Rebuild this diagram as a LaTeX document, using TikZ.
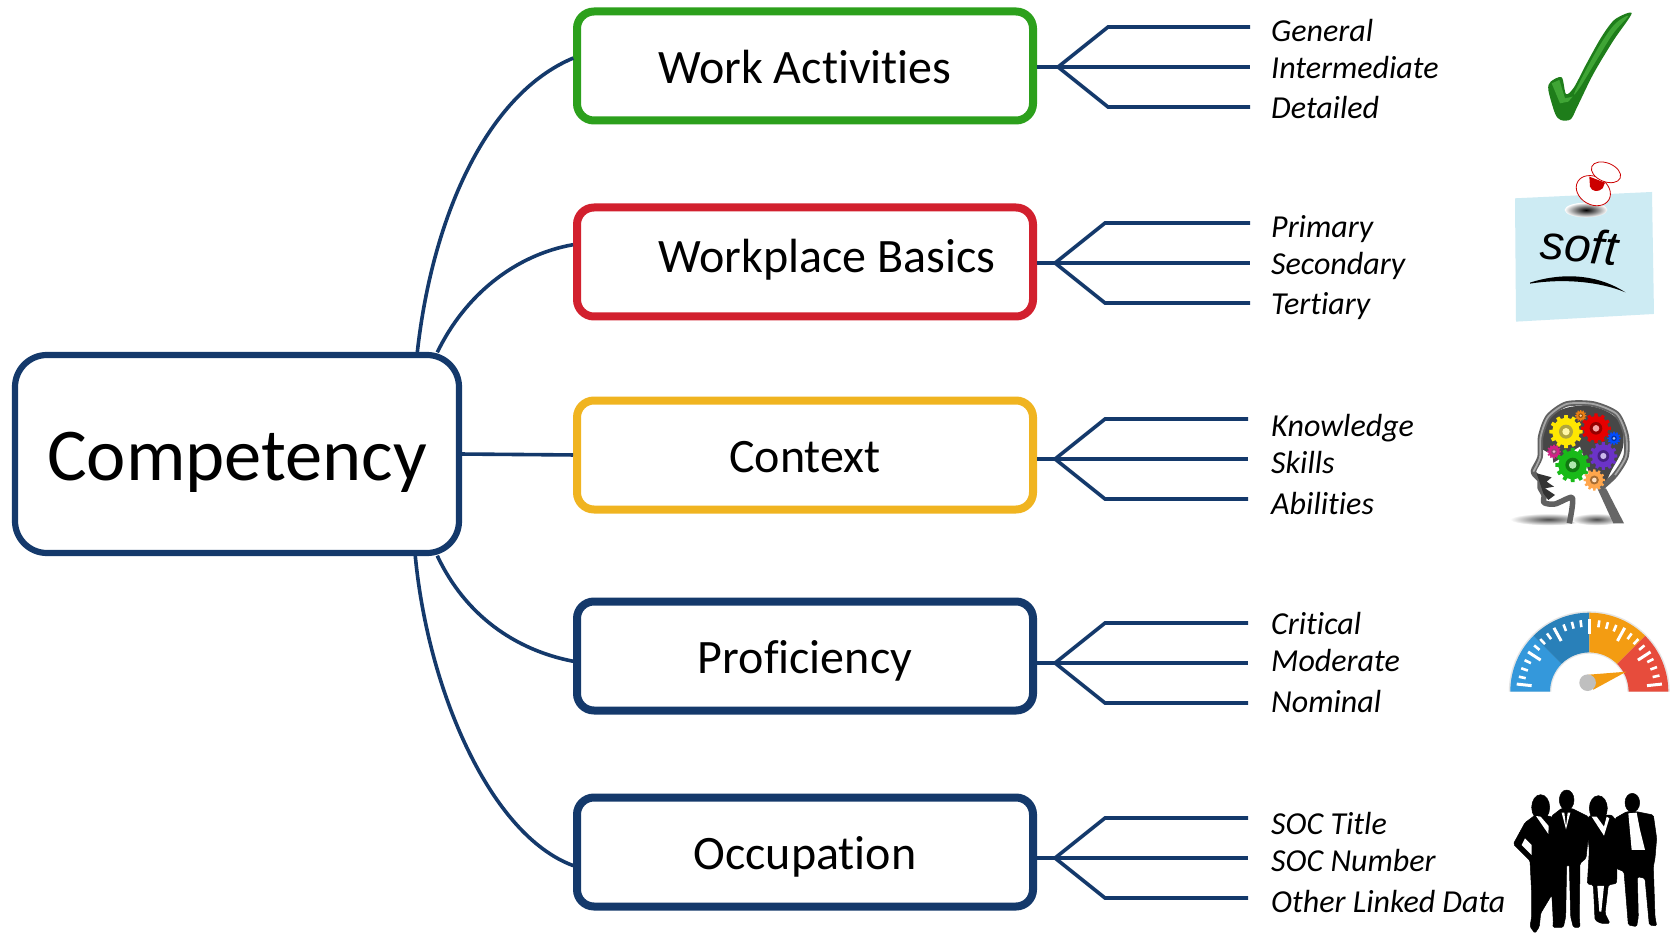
\documentclass[tikz,border=0pt]{standalone}
\usepackage{fontspec}
\setmainfont{Carlito}[Ligatures=NoCommon]
\newfontfamily\softfont{Liberation Sans}
\usetikzlibrary{calc,shadings}
\definecolor{navy}{HTML}{14396B}
\definecolor{boxgreen}{HTML}{2CA01C}
\definecolor{boxred}{HTML}{D2202E}
\definecolor{boxyellow}{HTML}{F0B420}
\definecolor{notecol}{HTML}{CDEBF3}
\definecolor{gaugeA}{HTML}{3498DB}
\definecolor{gaugeB}{HTML}{2980B9}
\definecolor{gaugeC}{HTML}{F39C12}
\definecolor{gaugeD}{HTML}{E74C3C}
\definecolor{checkA}{HTML}{1E7D1A}
\definecolor{checkB}{HTML}{3FA535}
\newcommand{\gearicon}[4]{%
  \foreach \ga in {0,30,...,330}{
    \fill[#4] ($(#1,#2)+(\ga-9:#3*0.78)$) -- ($(#1,#2)+(\ga-6:#3)$) -- ($(#1,#2)+(\ga+6:#3)$) -- ($(#1,#2)+(\ga+9:#3*0.78)$) -- cycle;
  }
  \fill[#4] (#1,#2) circle[radius=#3*0.82];
  \fill[#4!65!black] (#1,#2) circle[radius=#3*0.42];
  \fill[#4!35!white] (#1,#2) circle[radius=#3*0.22];
}
\newcommand{\lowered}[2]{\smash{\raisebox{-#1pt}{#2}}}
\tikzset{
  link/.style={draw=navy,line width=3.6pt},
  hublink/.style={link,shorten <=3pt,shorten >=4pt},
  rootbox/.style={draw=navy,line width=6.2pt,rounded corners=32pt,outer sep=0pt,inner sep=0pt,minimum width=444pt,minimum height=198pt,fill=white,font=\fontsize{74.5}{80}\selectfont},
  catbox/.style={line width=8pt,rounded corners=17pt,outer sep=0pt,inner sep=0pt,minimum width=456pt,minimum height=109pt,fill=white,font=\fontsize{48}{52}\selectfont},
  item/.style={anchor=base west,inner sep=0pt,font=\itshape\fontsize{32}{36}\selectfont},
  person/.style={fill=black,draw=black,line width=0.5pt,line join=round,rounded corners=1.5pt}
}
\begin{document}
\begin{tikzpicture}[x=1pt,y=-1pt]
\useasboundingbox (0,0) rectangle (1671,933);
\fill[white] (0,0) rectangle (1671,933);

\node[rootbox] (comp) at (237,454) {\lowered{26}{Competency}};
\node[catbox,draw=boxgreen] (wa) at (805,66) {\lowered{17.5}{Work Activities}};
\node[catbox,draw=boxred] (wb) at (805,262) {\hspace*{44pt}\lowered{11}{Workplace Basics}};
\node[catbox,draw=boxyellow] (ctx) at (805,455) {\lowered{17}{Context}};
\node[catbox,draw=navy] (prof) at (805,656) {\lowered{17}{Proficiency}};
\node[catbox,draw=navy] (occ) at (805,852) {\lowered{17}{Occupation}};

\draw[hublink] ([xshift=-42pt]comp.north east) .. controls (432,220) and (485,95) .. ([yshift=9.5pt]wa.west);
\draw[hublink] ([xshift=-23pt]comp.north east) .. controls (465,295) and (515,255) .. ([yshift=18pt]wb.west);
\draw[hublink] (comp.east) -- (ctx.west);
\draw[hublink] ([xshift=-23pt]comp.south east) .. controls (465,615) and (515,650) .. ([yshift=-6pt]prof.west);
\draw[hublink] ([xshift=-44pt]comp.south east) .. controls (428,690) and (490,835) .. ([yshift=-15pt]occ.west);

\foreach \bx/\by/\jx/\ex/\sh/\ext/\lab/\la/\lb/\lc in {
  wa/67/1058/1250/1.5/50/A/General/Intermediate/Detailed,
  wb/263/1055/1250/2/50/B/Primary/Secondary/Tertiary,
  ctx/459/1055/1248/4.5/50.5/C/Knowledge/Skills/Abilities,
  prof/663/1055/1248/-2/51/D/Critical/Moderate/Nominal,
  occ/858/1055/1248/3.5/50.5/E/SOC Title/SOC Number/Other Linked Data}{
  \coordinate (j\lab) at (\jx,\by);
  \coordinate (e\lab a) at (\ex,\by-40);
  \coordinate (e\lab b) at (\ex,\by);
  \coordinate (e\lab c) at (\ex,\by+40);
  \coordinate (k\lab a) at (\jx+50,\by-40);
  \coordinate (k\lab c) at (\jx+50,\by+40);
  \draw[link,shorten <=4pt] (\bx.east |- j\lab) -- (e\lab b);
  \draw[link,line join=miter] (e\lab a) -- (k\lab a) -- (j\lab) -- (k\lab c) -- (e\lab c);
  \node[item] (t\lab a) at (1271,\by-27+\sh) {\la};
  \node[item] (t\lab b) at (1271,\by+10+\sh) {\lb};
  \node[item] (t\lab c) at (1271,\by+\ext+\sh) {\lc};
}

% check mark
\begin{scope}[shift={(1480,0)},x=0.3333pt,y=-0.3333pt]
  \fill[checkA] plot[smooth cycle,tension=0.5] coordinates {(455,40) (405,58) (365,110) (320,190) (282,262) (258,282) (245,232) (212,245) (205,270) (225,340) (242,360) (272,358) (292,320) (340,222) (400,122)};
  \fill[checkB] plot[smooth cycle,tension=.6] coordinates {(445,48) (405,72) (360,135) (310,225) (282,282) (300,262) (350,180) (400,100)};
  \fill[checkB] (215,250) -- (238,240) -- (255,295) -- (278,290) -- (265,305) -- (240,310) -- cycle;
\end{scope}

% note
\begin{scope}[shift={(1480,0)},x=0.3333pt,y=-0.3333pt]
  \fill[notecol] (105,595) -- (516,576) -- (522,942) -- (108,965) -- cycle;
  \shade[inner color=black,outer color=white] (318,630) ellipse[x radius=64,y radius=22];
  \fill[white,draw=red!80!black,line width=0.8pt] (340,572) ellipse[x radius=54,y radius=42,rotate=-30];
  \fill[red!80!black] (328,530) -- (375,548) -- (368,565) .. controls (355,578) and (335,575) .. (330,560) -- cycle;
  \fill[white,draw=red!80!black,line width=0.8pt] (378,517) ellipse[x radius=46,y radius=28,rotate=-22];
  \node[rotate=-5,inner sep=0pt] (softword) at (298,735) {\softfont\itshape\fontsize{48}{50}\selectfont soft};
  \fill[black] (150,848) .. controls (230,822) and (340,815) .. (436,877) .. controls (360,845) and (250,835) .. (150,851) -- cycle;
\end{scope}

% head
\begin{scope}[shift={(1480,380)},x=0.3333pt,y=-0.3333pt]
  \shade[inner color=black!70,outer color=white] (205,418) ellipse[x radius=115,y radius=18];
  \shade[inner color=black!70,outer color=white] (350,418) ellipse[x radius=78,y radius=18];
  \fill[black!72] plot[smooth cycle,tension=.6] coordinates {(185,200) (200,125) (255,85) (340,80) (415,120) (430,195) (395,270) (360,325) (300,300) (230,270) (215,225)};
  \fill[white] (210,255) -- (300,200) -- (345,330) -- (290,355) -- (225,330) -- cycle;
  \fill[black!60] (352,325) -- (378,325) -- (432,430) -- (400,430) -- cycle;
  \draw[black!62,line width=5.5pt,line join=round] plot[smooth,tension=.45] coordinates {(362,325) (405,285) (438,230) (438,165) (410,102) (340,72) (260,72) (205,110) (182,170) (180,232) (160,275) (180,300) (180,322) (192,345) (192,368) (225,372) (275,352) (276,385) (268,430)};
  \draw[black!35,line width=1.8pt,line join=round] plot[smooth,tension=.45] coordinates {(405,285) (438,230) (438,165) (410,102) (340,72) (260,72) (205,110) (182,170) (180,232) (160,275)};
  \fill[black!80] (170,280) -- (215,292) -- (200,305) -- (222,320) -- (195,325) -- (225,345) -- (205,360) -- (190,340) -- cycle;
  \gearicon{302}{107}{17}{orange!70!brown}
  \gearicon{258}{155}{50}{yellow!90!orange}
  \gearicon{348}{145}{45}{red!90!black}
  \gearicon{402}{175}{20}{blue!70!cyan}
  \gearicon{370}{228}{42}{violet!55!blue!80!white}
  \gearicon{222}{215}{21}{magenta!70!violet}
  \gearicon{278}{255}{52}{green!70!black!90!white}
  \gearicon{343}{300}{32}{orange!70!white}
\end{scope}

% gauge
\begin{scope}[shift={(1589.3,691.7)},x=1pt,y=1pt]
  \fill[black!10] (-80.5,0) arc[start angle=180,end angle=0,radius=80.5] -- (38,0) arc[start angle=0,end angle=180,radius=38] -- cycle;
  \fill[gaugeA] (-79,0) arc[start angle=180,end angle=135,radius=79] -- (135:39.3) arc[start angle=135,end angle=180,radius=39.3] -- cycle;
  \fill[gaugeB] (135:79) arc[start angle=135,end angle=90,radius=79] -- (90:39.3) arc[start angle=90,end angle=135,radius=39.3] -- cycle;
  \fill[gaugeC] (90:79) arc[start angle=90,end angle=45,radius=79] -- (45:39.3) arc[start angle=45,end angle=90,radius=39.3] -- cycle;
  \fill[gaugeD] (45:79) arc[start angle=45,end angle=0,radius=79] -- (39.3,0) arc[start angle=0,end angle=45,radius=39.3] -- cycle;
  \foreach \ta in {6,33,61,90,119,147,174}{
    \draw[white,line width=3pt] (\ta:58) -- (\ta:73);
  }
  \foreach \ta in {13,20,27,40,47,54,68,75,82,97,104,111,126,133,140,154,161,168}{
    \draw[white,line width=2.6pt] (\ta:65) -- (\ta:72);
  }
  \fill[gaugeC] (-1,17) -- (37,20) -- (4,2) -- cycle;
  \fill[black!25] (-1.7,9) circle[radius=8.3];
\end{scope}

% people
\begin{scope}[shift={(1480,770)},x=0.3333pt,y=-0.3333pt]
  \fill[person] (182,112) ellipse[x radius=27,y radius=38];
  \fill[person] (170,132) -- (135,158) -- (100,222) -- (150,272) -- (155,370) -- (155,440) -- (150,470) -- (165,490) -- (178,470) -- (182,430) -- (215,375) -- (225,450) -- (250,472) -- (235,300) -- (215,140) -- cycle;
  \fill[white] (135,205) -- (125,225) -- (155,255) -- (155,225) -- cycle;
  \fill[white] (168,138) -- (205,192) -- (206,168) -- (182,140) -- cycle;
  \fill[person] (260,90) ellipse[x radius=22,y radius=30];
  \fill[person] (245,115) -- (215,138) -- (208,170) -- (212,300) -- (220,460) -- (218,472) -- (250,472) -- (257,440) -- (260,285) -- (268,285) -- (272,440) -- (280,472) -- (300,472) -- (298,440) -- (300,280) -- (318,265) -- (325,200) -- (325,140) -- (275,115) -- cycle;
  \fill[white] (245,128) -- (253,128) -- (258,170) -- (263,128) -- (271,128) -- (258,178) -- cycle;
  \fill[person] (355,115) ellipse[x radius=27,y radius=38];
  \fill[person] (332,135) -- (318,150) -- (328,240) -- (322,342) -- (340,345) -- (345,450) -- (362,460) -- (390,460) -- (375,430) -- (385,345) -- (410,340) -- (412,240) -- (415,160) -- (395,135) -- cycle;
  \fill[white] (352,348) -- (372,348) -- (364,425) -- (358,425) -- cycle;
  \fill[white] (335,140) -- (372,197) -- (388,145) -- (380,140) -- (372,170) -- (350,140) -- cycle;
  \fill[person] (457,98) ellipse[x radius=22,y radius=28];
  \fill[person] (440,125) -- (405,145) -- (408,295) -- (432,305) -- (445,465) -- (470,470) -- (475,440) -- (472,320) -- (495,325) -- (508,465) -- (530,468) -- (525,440) -- (520,290) -- (525,265) -- (530,205) -- (520,135) -- (470,125) -- cycle;
  \fill[white] (445,130) -- (470,128) -- (480,180) -- (495,240) -- (455,240) -- cycle;
\end{scope}
\end{tikzpicture}
\end{document}
